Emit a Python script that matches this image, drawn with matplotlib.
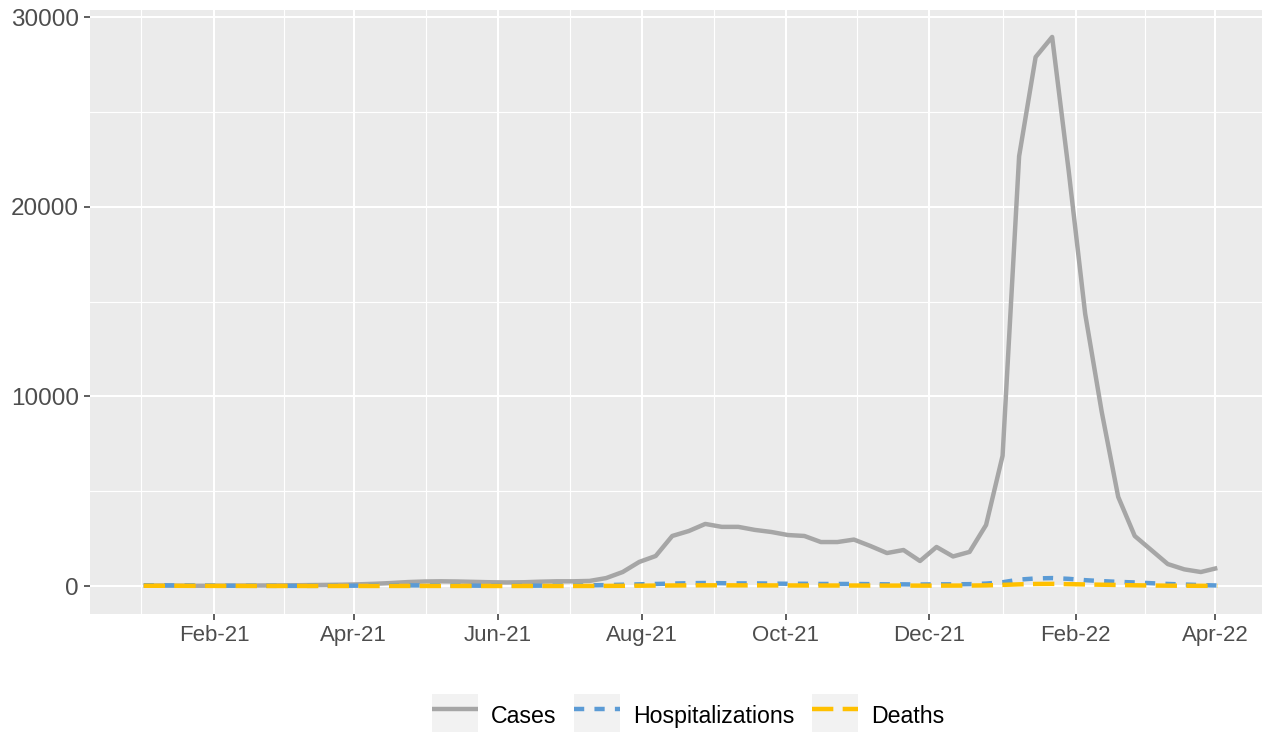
import numpy as np
import pandas as pd
import matplotlib
matplotlib.use("Agg")
import matplotlib.pyplot as plt
import matplotlib.dates as mdates
from matplotlib.patches import Rectangle
from matplotlib.legend_handler import HandlerTuple

# 週資料 (2021-01-02 ~ 2022-04-02)
dates = pd.date_range("2021-01-02", periods=66, freq="7D")

cases = [20, 25, 20, 15, 15, 20, 25, 30, 35, 40, 50, 60, 70,
         90, 120, 160, 210, 240, 250, 240, 220, 200, 190, 200, 230, 250, 250,
         270, 420, 740, 1270, 1585,
         2640, 2900, 3275, 3120, 3120, 2960, 2850, 2690, 2640,
         2320, 2320, 2450, 2110, 1740, 1900, 1320, 2060, 1560, 1800,
         3220, 6870, 22660, 27890, 28950, 21900, 14350, 9190, 4700, 2640,
         1900, 1160, 880, 740, 950]

hospitalizations = [40, 40, 35, 30, 25, 20, 15, 12, 10, 10, 10, 12, 15,
                    20, 25, 30, 35, 35, 30, 25, 20, 15, 15, 15, 20, 25, 30,
                    40, 50, 70, 90, 110,
                    130, 150, 160, 150, 140, 140, 130, 120, 120,
                    110, 110, 110, 100, 90, 90, 80, 90, 90, 100,
                    130, 200, 340, 400, 420, 380, 310, 260, 220, 190,
                    150, 110, 80, 50, 30]

deaths = [15, 15, 12, 10, 8, 6, 5, 5, 4, 4, 4, 4, 4,
          4, 4, 5, 5, 5, 5, 4, 4, 3, 3, 3, 3, 3, 4,
          5, 8, 12, 18, 25,
          30, 35, 38, 38, 36, 35, 33, 32, 30,
          28, 28, 28, 26, 24, 24, 22, 22, 24, 26,
          35, 60, 90, 110, 115, 100, 85, 70, 55, 40,
          28, 20, 15, 12, 10]

series_names = ["Cases", "Hospitalizations", "Deaths"]
series_colors = ["#A6A6A6", "#5B9BD5", "#FFC000"]

plt.rcParams["font.family"] = ["Liberation Sans", "DejaVu Sans"]

fig = plt.figure(figsize=(12.62, 7.32), dpi=100)
# 面板超出右邊界 (原圖右側被裁切)
ax = fig.add_axes([90 / 1262, 1 - 613.5 / 732, (1271 - 90) / 1262, (613.5 - 9.5) / 732])
ax.set_facecolor("#EBEBEB")
for s in ax.spines.values():
    s.set_visible(False)

# 座標範圍 (ggplot 5% 擴展)
x0 = mdates.date2num(dates[0])
x1 = mdates.date2num(dates[-1])
xpad = (x1 - x0) * 0.05
ax.set_xlim(x0 - xpad, x1 + xpad)
ymax = max(cases)
ax.set_ylim(-ymax * 0.05, ymax * 1.05)

# 刻度
major_dates = pd.date_range("2021-02-01", "2022-04-01", freq="2MS")
major_nums = mdates.date2num(major_dates)
ax.set_xticks(major_nums)
ax.set_xticklabels([d.strftime("%b-%y") for d in major_dates])
prev_num = mdates.date2num(pd.Timestamp("2020-12-01"))
all_nums = np.concatenate([[prev_num], major_nums])
minor_nums = (all_nums[:-1] + all_nums[1:]) / 2
ax.set_xticks(minor_nums, minor=True)

ax.set_yticks([0, 10000, 20000, 30000])
ax.set_yticks([5000, 15000, 25000], minor=True)

ax.grid(which="major", color="white", linewidth=1.5)
ax.grid(which="minor", color="white", linewidth=0.8)
ax.set_axisbelow(True)

ax.tick_params(which="major", length=4, width=1.1, color="#333333",
               labelsize=16, labelcolor="#4D4D4D", pad=4)
ax.tick_params(axis="y", which="major", labelsize=17.5)
ax.tick_params(which="minor", length=0)

# 繪製線條
lw = 3.2
l_cases, = ax.plot(dates, cases, color=series_colors[0], linewidth=lw,
                   solid_capstyle="butt", solid_joinstyle="round")
l_hosp, = ax.plot(dates, hospitalizations, color=series_colors[1], linewidth=lw,
                  dashes=(2.3, 2.3), dash_capstyle="butt")
l_deaths, = ax.plot(dates, deaths, color=series_colors[2], linewidth=lw,
                    dashes=(4.8, 2.1), dash_capstyle="butt")

# 圖例 (灰色底框)
keys = [Rectangle((0, 0), 1, 1, facecolor="#F2F2F2", edgecolor="none") for _ in range(3)]
handles = [(keys[0], l_cases), (keys[1], l_hosp), (keys[2], l_deaths)]
fig.legend(handles, series_names,
           handler_map={tuple: HandlerTuple(ndivide=1, pad=0)},
           loc="center", bbox_to_anchor=(0.545, 1 - 716 / 732), ncol=3,
           frameon=False, fontsize=16.7, handlelength=2.0, handleheight=2.5,
           handletextpad=0.55, columnspacing=0.75, borderpad=0)

fig.savefig("out.png", dpi=100)
